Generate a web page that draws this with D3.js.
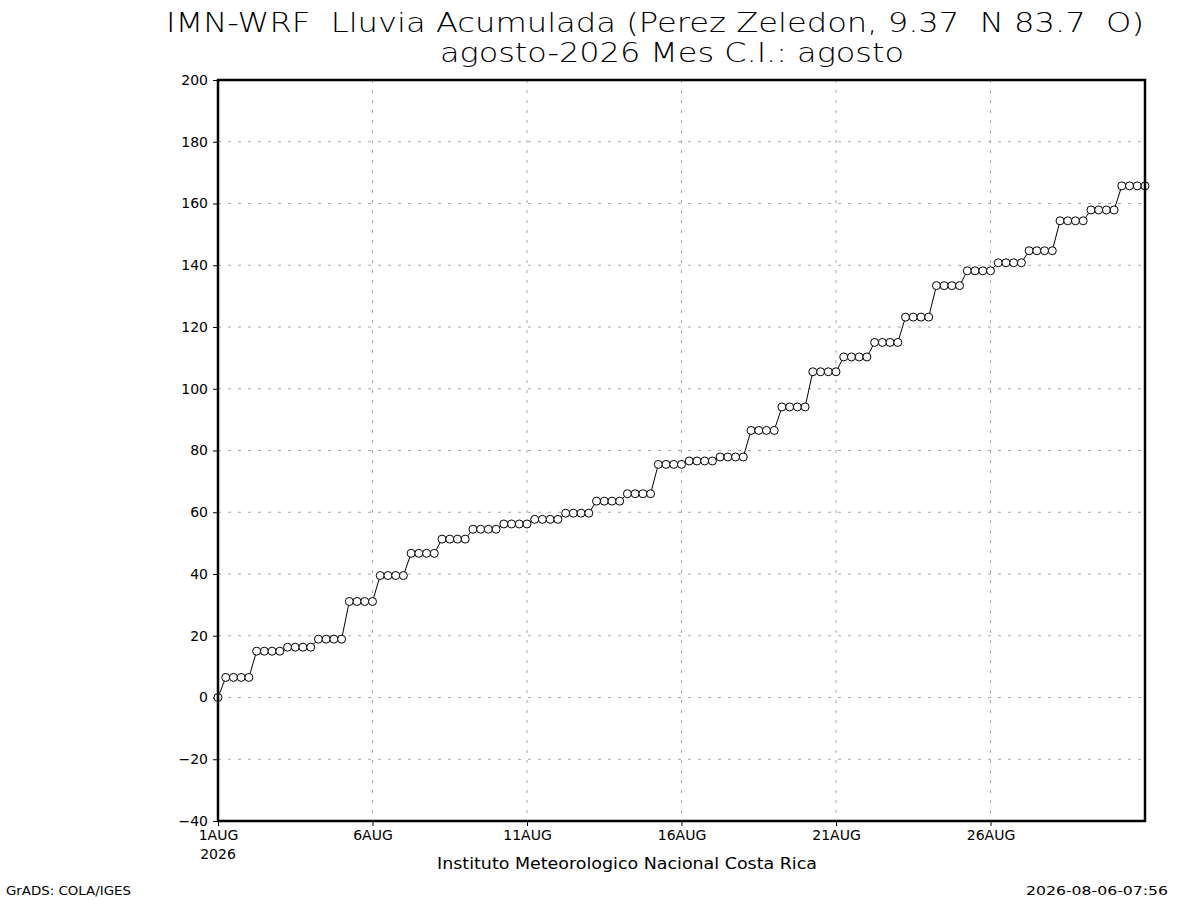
<!DOCTYPE html>
<html>
<head>
<meta charset="utf-8">
<script src="https://cdn.jsdelivr.net/npm/d3@7/dist/d3.min.js"></script>
<style>
  body { margin: 0; background: #fff; }
  svg { display: block; }
  text { font-family: "DejaVu Sans", sans-serif; fill: #000; white-space: pre; }
  .title { font-family: "DejaVu Sans", sans-serif; font-weight: 200; }
</style>
</head>
<body>
<svg id="chart" width="1200" height="900"></svg>
<script>
// ---- Data (cumulative rainfall, mm, every 6 h from 1 AUG 00Z) ----
const titleLine1 = "IMN-WRF  Lluvia Acumulada (Perez Zeledon, 9.37  N 83.7  O)";
const titleLine2 = "agosto-2026 Mes C.I.: agosto";
const footerCenter = "Instituto Meteorologico Nacional Costa Rica";
const footerLeft = "GrADS: COLA/IGES";
const footerRight = "2026-08-06-07:56";

const stepHours = 6;
const rainValues = [
  0,
  6.5, 6.5, 6.5, 6.5,
  15.0, 15.0, 15.0, 15.0,
  16.3, 16.3, 16.3, 16.3,
  18.9, 18.9, 18.9, 18.9,
  31.1, 31.1, 31.1, 31.1,
  39.5, 39.5, 39.5, 39.5,
  46.7, 46.7, 46.7, 46.7,
  51.3, 51.3, 51.3, 51.3,
  54.5, 54.5, 54.5, 54.5,
  56.2, 56.2, 56.2, 56.2,
  57.7, 57.7, 57.7, 57.7,
  59.7, 59.7, 59.7, 59.7,
  63.6, 63.6, 63.6, 63.6,
  66.0, 66.0, 66.0, 66.0,
  75.5, 75.5, 75.5, 75.5,
  76.6, 76.6, 76.6, 76.6,
  77.9, 77.9, 77.9, 77.9,
  86.5, 86.5, 86.5, 86.5,
  94.1, 94.1, 94.1, 94.1,
  105.5, 105.5, 105.5, 105.5,
  110.3, 110.3, 110.3, 110.3,
  115.0, 115.0, 115.0, 115.0,
  123.2, 123.2, 123.2, 123.2,
  133.4, 133.4, 133.4, 133.4,
  138.2, 138.2, 138.2, 138.2,
  140.8, 140.8, 140.8, 140.8,
  144.7, 144.7, 144.7, 144.7,
  154.4, 154.4, 154.4, 154.4,
  157.9, 157.9, 157.9, 157.9,
  165.7, 165.7, 165.7, 165.7
];

const xTickDates = ["2026-08-01", "2026-08-06", "2026-08-11", "2026-08-16", "2026-08-21", "2026-08-26"];
const xTickLabels = ["1AUG", "6AUG", "11AUG", "16AUG", "21AUG", "26AUG"];
const yTickValues = [-40, -20, 0, 20, 40, 60, 80, 100, 120, 140, 160, 180, 200];

// ---- Layout ----
const plotLeft = 218, plotRight = 1145, plotTop = 80, plotBottom = 821;
const svg = d3.select("#chart");

const start = new Date(Date.UTC(2026, 7, 1, 0));
const end = new Date(Date.UTC(2026, 7, 31, 0));
const x = d3.scaleUtc().domain([start, end]).range([plotLeft, plotRight]);
const y = d3.scaleLinear().domain([-40, 200]).range([plotBottom, plotTop]);

const points = rainValues.map((v, i) => ({
  t: new Date(start.getTime() + i * stepHours * 3600 * 1000),
  v
}));

const xTicks = xTickDates.map(s => new Date(s + "T00:00:00Z"));

// grid
const grid = svg.append("g");
grid.selectAll("line.gy").data(yTickValues).join("line")
  .attr("x1", plotLeft).attr("x2", plotRight)
  .attr("y1", d => y(d)).attr("y2", d => y(d))
  .attr("stroke", "#a8a8a8").attr("stroke-width", 1)
  .attr("stroke-dasharray", "3,7");
grid.selectAll("line.gx").data(xTicks).join("line")
  .attr("x1", d => x(d)).attr("x2", d => x(d))
  .attr("y1", plotTop).attr("y2", plotBottom)
  .attr("stroke", "#a8a8a8").attr("stroke-width", 1)
  .attr("stroke-dasharray", "3,7");

// axes
const yAxis = d3.axisLeft(y).tickValues(yTickValues).tickSize(5).tickPadding(5);
const gy = svg.append("g").attr("transform", `translate(${plotLeft},0)`).call(yAxis);
gy.select(".domain").remove();
gy.selectAll("text").style("font-size", "14px").style("font-family", "'DejaVu Sans', sans-serif");
gy.selectAll("line").attr("stroke", "#000");

const xAxis = d3.axisBottom(x).tickValues(xTicks)
  .tickFormat((d, i) => xTickLabels[i]).tickSize(5).tickPadding(4);
const gx = svg.append("g").attr("transform", `translate(0,${plotBottom})`).call(xAxis);
gx.select(".domain").remove();
gx.selectAll("text").style("font-size", "14px").style("font-family", "'DejaVu Sans', sans-serif")
  .attr("dy", "0.71em");
gx.selectAll("line").attr("stroke", "#000");
svg.append("text").attr("x", x(xTicks[0])).attr("y", 859)
  .attr("text-anchor", "middle").style("font-size", "14px").text("2026");

// line + markers
const line = d3.line().x(d => x(d.t)).y(d => y(d.v));
svg.append("path").datum(points).attr("d", line)
  .attr("fill", "none").attr("stroke", "#000").attr("stroke-width", 1);
svg.append("g").selectAll("circle").data(points).join("circle")
  .attr("cx", d => x(d.t)).attr("cy", d => y(d.v)).attr("r", 4)
  .attr("fill", "#fff").attr("stroke", "#000").attr("stroke-width", 1);

// frame
svg.append("rect").attr("x", plotLeft).attr("y", plotTop)
  .attr("width", plotRight - plotLeft).attr("height", plotBottom - plotTop)
  .attr("fill", "none").attr("stroke", "#000").attr("stroke-width", 2.5);

// titles
svg.append("text").attr("class", "title").attr("x", 655).attr("y", 32).attr("text-anchor", "middle")
  .style("font-size", "26px").attr("textLength", 978).attr("lengthAdjust", "spacingAndGlyphs")
  .text(titleLine1);
svg.append("text").attr("class", "title").attr("x", 672).attr("y", 62).attr("text-anchor", "middle")
  .style("font-size", "26px").attr("textLength", 464).attr("lengthAdjust", "spacingAndGlyphs")
  .text(titleLine2);

// footers
svg.append("text").attr("x", 627).attr("y", 869).attr("text-anchor", "middle")
  .style("font-size", "16px").attr("textLength", 380).attr("lengthAdjust", "spacingAndGlyphs")
  .text(footerCenter);
svg.append("text").attr("x", 6).attr("y", 895)
  .style("font-size", "13px").attr("textLength", 125).attr("lengthAdjust", "spacingAndGlyphs")
  .text(footerLeft);
svg.append("text").attr("x", 1168).attr("y", 895).attr("text-anchor", "end")
  .style("font-size", "13px").attr("textLength", 142).attr("lengthAdjust", "spacingAndGlyphs")
  .text(footerRight);
</script>
</body>
</html>
